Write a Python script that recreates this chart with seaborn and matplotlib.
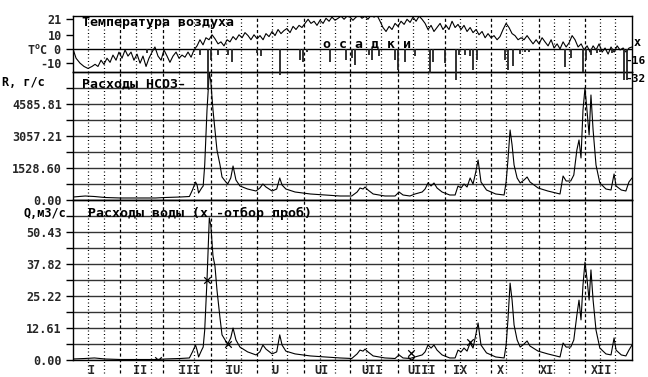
import matplotlib
matplotlib.use("Agg")
import matplotlib.pyplot as plt
import seaborn as sns

# ---------------- data ----------------
temp_day = [0, 2, 4.6, 7.2, 9.8, 12.4, 14.4, 16.3, 18.3, 20.2,
            22.2, 24.2, 26.1, 28.1, 30, 32, 34, 35.9, 37.9, 39.8,
            41.8, 43.8, 45.7, 47.7, 49.6, 51.6, 53.5, 55.5, 57.5, 59.4,
            61.4, 63.3, 65.3, 67.3, 69.2, 71.2, 73.1, 75.1, 77.1, 79,
            81, 82.9, 84.9, 86.8, 88.8, 90.8, 92.7, 94.7, 96.6, 98.6,
            100.6, 102.5, 104.5, 106.4, 108.4, 110.4, 112.3, 114.3, 116.2, 118.2,
            120.2, 122.1, 124.1, 126, 128, 130, 131.9, 133.9, 135.8, 137.8,
            139.7, 141.7, 143.7, 145.6, 147.6, 149.5, 151.5, 153.5, 155.4, 157.4,
            159.3, 161.3, 163.3, 165.2, 167.2, 169.1, 171.1, 173.1, 175, 177,
            178.9, 180.9, 182.8, 184.8, 186.8, 188.7, 190.7, 192.6, 194.6, 196.6,
            198.5, 200.5, 202.4, 204.4, 206.4, 208.3, 210.3, 212.2, 214.2, 216.2,
            218.1, 220.1, 222, 224, 226, 227.9, 229.9, 231.8, 233.8, 235.7,
            237.7, 239.7, 241.6, 243.6, 245.5, 247.5, 249.5, 251.4, 253.4, 255.3,
            257.3, 259.3, 261.2, 263.2, 265.1, 267.1, 269.1, 271, 273, 274.9,
            276.9, 278.8, 280.8, 282.8, 284.7, 286.7, 288.6, 290.6, 292.6, 294.5,
            296.5, 298.4, 300.4, 302.4, 304.3, 306.3, 308.2, 310.2, 312.2, 314.1,
            316.1, 318, 320, 322, 323.9, 325.9, 327.8, 329.8, 331.8, 333.7,
            335.7, 337.6, 339.6, 341.5, 343.5, 345.5, 347.4, 349.4, 351.3, 353.3,
            355.3, 357.2, 359.2, 361.1, 363.1, 365]
temp_val = [0, -6.5, -10, -12.3, -13.7, -12.3, -10.8, -12.3, -7.9, -10.8,
            -6.5, -9.4, -4.3, -7.9, -2.2, -6.5, -0.7, -5, -2.2, -7.9,
            -3.6, -10, -5, -12.3, -6.5, -2.2, 1.4, -5, -7.9, -0.7,
            -5, -9.4, -5, -2.2, -6.5, -4.3, -5.8, -2.2, -5.8, -0.7,
            2.2, 6.5, 2.9, 7.9, 6.5, 10, 7.2, 3.6, 5, 2.2,
            6.5, 5, 8.7, 6.5, 10, 7.9, 11.5, 9.4, 6.5, 10,
            7.2, 9.4, 6.5, 10.8, 8.7, 12.3, 9.4, 13.7, 10.8, 13,
            14.4, 11.5, 15.9, 13.7, 16.6, 15.1, 18, 20.9, 18, 19.5,
            16.6, 20.2, 18, 21.6, 19.5, 22.4, 20.2, 21.6, 23.1, 20.9,
            23.1, 22.4, 20.2, 22.4, 23.8, 21.6, 23.1, 20.9, 23.8, 22.4,
            23.8, 19.5, 15.1, 12.3, 15.9, 13.7, 18, 15.9, 19.5, 17.3,
            20.9, 18.7, 22.4, 19.5, 23.1, 20.9, 18, 13.7, 16.6, 12.3,
            15.1, 18, 13.7, 16.6, 13.7, 19.5, 15.1, 17.3, 13.7, 16.6,
            12.3, 15.1, 11.5, 13.7, 10, 12.3, 7.9, 10.8, 7.9, 9.4,
            6.5, 8.7, 13.7, 18, 15.1, 10.8, 9.4, 6.5, 7.9, 6.5,
            9.4, 6.5, 3.6, 6.5, 3.6, 7.9, 5, 2.2, 6.5, 0.7,
            3.6, 0, 5, 1.4, 4.3, 9.4, 6.5, 1.4, 3.6, -0.7,
            2.2, -2.2, 2.2, -0.7, 3.6, -2.2, 0.7, -3.6, 1.4, -2.2,
            2.2, -0.7, 0.7, -2.2, 0.7, 1.4]

prec_day = [48, 83, 88, 90, 95, 101, 104, 120, 123, 135,
            148, 150, 153, 168, 178, 182, 184, 193, 195, 200,
            210, 212, 217, 223, 233, 235, 243, 250, 252, 256,
            259, 261, 264, 282, 284, 287, 292, 295, 298, 321,
            325, 333, 335, 338, 342, 344, 352, 360, 362]
prec_mm = [4, 6, 44, 12, 6, 6, 14, 4, 7, 28,
           12, 14, 3, 14, 12, 10, 17, 6, 12, 8,
           12, 22, 14, 8, 26, 14, 15, 33, 6, 6,
           7, 22, 12, 12, 22, 18, 5, 3, 3, 19,
           10, 24, 12, 6, 4, 3, 4, 33, 33]

flow_day = [0, 8, 14, 21, 31, 44, 54, 60, 70, 76,
            78, 80, 81, 82, 84, 85, 86, 87.5, 89, 90,
            91.4, 92.7, 94, 96, 97.3, 99.3, 101, 103, 104.5, 106.4,
            109, 114, 119.5, 122, 124, 126, 130, 133, 135, 136.5,
            139, 145, 155, 164.6, 174.4, 182, 185.5, 187.4, 189.4, 190.7,
            192.6, 196, 203.7, 210.3, 212.9, 215.5, 220, 223.3, 228, 229.9,
            231.8, 233.8, 235.7, 237.7, 241, 246, 249.5, 251.4, 253.4, 255.3,
            257.3, 259.3, 261.2, 263, 264.5, 266.4, 270, 276, 281.5, 282.8,
            284, 285.4, 286.7, 288, 290, 292, 294.5, 296.5, 298.4, 303.7,
            310, 318, 320, 322, 325, 327, 329, 330.4, 331.7, 333,
            334.3, 335.7, 337, 338.2, 339.6, 341.5, 344, 348, 351.3, 353.3,
            354.6, 358, 361, 363, 365]
q_val = [0.4, 0.6, 0.8, 0.4, 0.2, 0.2, 0.2, 0.4, 0.6, 0.8,
         3.2, 5.9, 3.9, 1.2, 3.9, 5.1, 11.8, 31.5, 56, 53,
         41, 37, 27.6, 16.5, 9.9, 7.9, 6.3, 8.7, 12.6, 7.9,
         5.1, 3.2, 2, 3.2, 5.9, 4.3, 2.4, 3.2, 9.9, 5.9,
         3.5, 2.4, 1.6, 1.2, 0.8, 0.6, 2.4, 3.9, 3.5, 4.3,
         3.2, 1.6, 0.8, 0.6, 2, 0.8, 0.6, 1.2, 2, 3.2,
         5.9, 4.7, 5.9, 3.9, 2, 0.8, 0.8, 3.9, 3.2, 4.7,
         3.5, 6.7, 4.7, 9.9, 14.6, 5.9, 2.8, 1.2, 0.8, 5.9,
         15.8, 30.3, 23.6, 13.8, 7.9, 5.1, 6.3, 7.5, 5.5, 3.5,
         2.4, 1.2, 6.7, 5.1, 5.1, 7.9, 17.7, 23.6, 15.8, 29.6,
         38.6, 31.5, 23.6, 35.5, 23.6, 11.8, 4.7, 2.4, 2, 8.7,
         3.9, 2, 1.6, 3.9, 5.9]
r_val = [143, 191, 167, 119, 96, 96, 96, 119, 143, 167,
         478, 860, 717, 334, 573, 669, 1672, 4300, 6114, 5637,
         4300, 3344, 2389, 1672, 1099, 908, 764, 1051, 1624, 955,
         669, 525, 430, 573, 764, 621, 430, 525, 1051, 717,
         525, 382, 287, 239, 191, 191, 382, 573, 525, 621,
         478, 287, 191, 191, 382, 239, 191, 287, 382, 525,
         812, 669, 812, 573, 382, 239, 239, 669, 573, 764,
         621, 1051, 764, 1338, 1911, 860, 478, 287, 239, 860,
         1911, 3344, 2627, 1672, 1051, 812, 955, 1099, 860, 573,
         430, 287, 1146, 908, 908, 1194, 2389, 2866, 2006, 4300,
         5350, 4204, 3105, 5016, 3344, 1672, 812, 525, 478, 1242,
         669, 478, 430, 860, 1051]

sample_day = [55.5, 87.5, 101, 221, 221, 259]
sample_q = [0.0, 31.5, 6.3, 2.8, 0.0, 7.0]

month_start = [0, 31, 59, 90, 120, 151, 181, 212, 243, 273, 304, 334, 365]
month_labels = ["I", "II", "III", "IU", "U", "UI", "UII", "UIII", "IX", "X", "XI", "XII"]
month_label_day = [12.4, 43.7, 76.4, 104.8, 131.6, 162.3, 195.2, 227.9, 253, 279.2, 309.5, 344.8]

t_ticks = [-10, 0, 10, 21]
t_labels = ["-10", "T$^o$C 0", "10", "21"]
r_ticks = [0.00, 1528.60, 3057.21, 4585.81]
r_minor = [764.30, 2292.91, 3821.51, 5350.11]
q_ticks = [0.00, 12.61, 25.22, 37.82, 50.43]
q_minor = [6.305, 18.915, 31.52, 44.125, 56.74]

# ---------------- style ----------------
sns.set_theme(style="white")
plt.rcParams['font.family'] = ['DejaVu Sans Mono', 'DejaVu Sans']
plt.rcParams['font.weight'] = 'bold'
plt.rcParams['mathtext.default'] = 'regular'

W, H = 648, 377
fig = plt.figure(figsize=(W / 100, H / 100), dpi=100)
fig.patch.set_facecolor('white')


def rect(x0, y0, x1, y1):
    return [x0 / W, 1 - y1 / H, (x1 - x0) / W, (y1 - y0) / H]


ax_t = fig.add_axes(rect(73, 16, 632, 72))
ax_r = fig.add_axes(rect(73, 72, 632, 200))
ax_q = fig.add_axes(rect(73, 200, 632, 360))

FS = 9.5
TFS = 8.5
for ax in (ax_t, ax_r, ax_q):
    ax.set_facecolor('none')
    ax.set_xlim(0, 365)
    for s in ax.spines.values():
        s.set_color('black')
        s.set_linewidth(1.0)
    ax.tick_params(axis='y', which='both', direction='out', length=5, width=1,
                   color='black', pad=3, labelsize=TFS, left=True)
    ax.set_xticks([])

# vertical decade / month lines
for ax, ext in ((ax_t, 0.0), (ax_r, 0.0), (ax_q, 0.08)):
    for i in range(12):
        s = month_start[i]
        if i > 0:
            ax.axvline(s, ymin=-ext, ymax=1, color='black', lw=0.9,
                       ls=(0, (2.5, 2.0)), clip_on=False, zorder=1)
        for d in (s + 10, s + 20):
            ax.axvline(d, ymin=-ext, ymax=1, color='black', lw=0.9,
                       ls=(0, (0.8, 2.0)), clip_on=False, zorder=1)

# temperature panel
ax_t.set_ylim(-16.2, 23.2)
ax_t.set_yticks(t_ticks, labels=t_labels)
ax_t.axhline(0, color='black', lw=1.0, zorder=1)
sns.lineplot(x=temp_day, y=temp_val, ax=ax_t, color='black', linewidth=0.8,
             estimator=None, sort=False)

# precipitation (downward bars)
ax_p = ax_t.twinx()
ax_p.set_ylim(24.5, -35.1)
ax_p.set_axis_off()
ax_p.vlines(prec_day, 0, prec_mm, color='#222222', lw=1.3, clip_on=False)

# HCO3 flux panel
ax_r.set_ylim(0, 6114.42)
ax_r.set_yticks(r_ticks, labels=[f"{v:.2f}" for v in r_ticks])
ax_r.set_yticks(r_minor, minor=True)
ax_r.grid(axis='y', which='both', color='#333333', lw=1.0, ls='-')
sns.lineplot(x=flow_day, y=r_val, ax=ax_r, color='black', linewidth=0.8,
             estimator=None, sort=False)

# water discharge panel
ax_q.set_ylim(0, 63.05)
ax_q.set_yticks(q_ticks, labels=[f"{v:.2f}" for v in q_ticks])
ax_q.set_yticks(q_minor, minor=True)
ax_q.grid(axis='y', which='both', color='#333333', lw=1.0, ls='-')
sns.lineplot(x=flow_day, y=q_val, ax=ax_q, color='black', linewidth=0.8,
             estimator=None, sort=False)
sns.scatterplot(x=sample_day, y=sample_q, ax=ax_q, marker='x', color='black',
                s=22, linewidth=0.9, zorder=5, legend=False)
ax_q.set_xticks(month_label_day, labels=month_labels, minor=True)
ax_q.tick_params(axis='x', which='minor', length=0, pad=3, labelsize=TFS)

for ax in (ax_t, ax_r, ax_q):
    ax.set_xlabel('')
    ax.set_ylabel('')
    ax.set_xlim(0, 365)


def ftext(x, y, s, ha='left', fs=FS):
    fig.text(x / W, 1 - y / H, s, ha=ha, va='center', fontsize=fs,
             fontweight='bold', color='black')


ftext(82, 22.5, "Температура воздуха")
ftext(323, 44, "о с а д к и")
ftext(82, 84, "Расходы НСО3-")
ftext(2, 83, "R, г/с", fs=TFS)
ftext(88, 213.5, "Расходы воды (х -отбор проб)")
ftext(24, 213.5, "Q,м3/с", fs=TFS)
ftext(625, 61, "-16", fs=8)
ftext(625, 79, "-32", fs=8)
ftext(634, 42, "x", fs=8.5)

fig.savefig("out.png", dpi=100)
